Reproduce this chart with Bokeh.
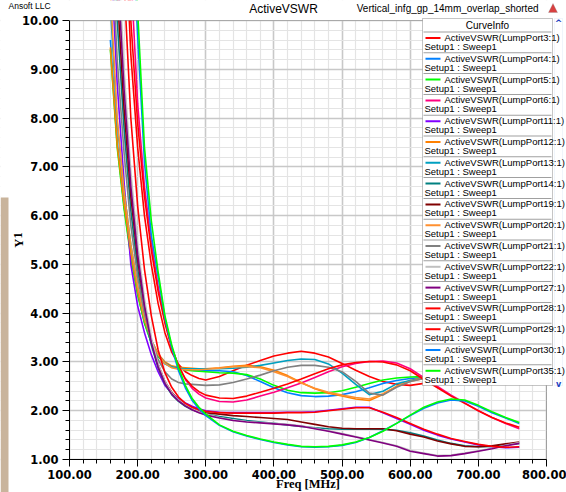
from bokeh.plotting import figure
from bokeh.models import (Range1d, FixedTicker, PrintfTickFormatter, Label,
                          BoxAnnotation, PolyAnnotation)
from bokeh.embed import file_html
from bokeh.resources import INLINE

# ---- data: active VSWR per lumped port vs frequency (MHz) ----
freq_mhz = [160, 170, 180, 190, 200, 210, 220, 230, 240, 250, 260, 270, 280, 290, 300,
            320, 340, 360, 380, 400, 420, 440, 460, 480, 500, 520, 540, 560, 580, 600,
            620, 640, 660, 680, 700, 720, 740, 760]

port3 = [24, 17, 12.5, 9.3, 7.4, 6.0, 5.0, 4.2, 3.6, 3.2, 2.95, 2.8, 2.72, 2.66, 2.63,
         2.7, 2.82, 2.93, 3.03, 3.12, 3.18, 3.22, 3.18, 3.1, 2.97, 2.83, 2.7, 2.6, 2.54, 2.52,
         2.56, 2.62, 2.68, 2.72, 2.74, 2.74, 2.72, 2.7]
port4 = [9.6, 7.5, 6.2, 5.2, 4.4, 3.8, 3.4, 3.12, 2.96, 2.89, 2.86, 2.84, 2.83, 2.82, 2.82,
         2.82, 2.8, 2.72, 2.6, 2.47, 2.37, 2.31, 2.29, 2.3, 2.33, 2.39, 2.47, 2.56, 2.62, 2.66,
         2.68, 2.69, 2.69, 2.68, 2.67, 2.66, 2.65, 2.64]
port5 = [9.4, 7.4, 6.15, 5.15, 4.38, 3.8, 3.4, 3.12, 2.97, 2.9, 2.86, 2.84, 2.82, 2.81, 2.8,
         2.78, 2.77, 2.74, 2.65, 2.52, 2.42, 2.37, 2.36, 2.37, 2.41, 2.48, 2.56, 2.63, 2.67, 2.69,
         2.7, 2.7, 2.7, 2.69, 2.68, 2.67, 2.66, 2.65]
port6 = [26, 19, 14.5, 11, 8.3, 6.6, 5.45, 4.55, 3.85, 3.3, 2.92, 2.64, 2.46, 2.34, 2.26,
         2.19, 2.18, 2.22, 2.3, 2.38, 2.47, 2.57, 2.68, 2.8, 2.9, 2.97, 3.01, 3.02, 2.98, 2.86,
         2.68, 2.5, 2.32, 2.16, 2.0, 1.86, 1.74, 1.63]
port11 = [11.5, 8.7, 6.7, 5.0, 4.15, 3.6, 3.15, 2.8, 2.52, 2.36, 2.25, 2.16, 2.09, 2.04, 2.0,
          1.97, 1.96, 1.96, 1.96, 1.96, 1.97, 1.97, 1.98, 2.01, 2.04, 2.07, 2.07, 1.96, 1.84, 1.72,
          1.6, 1.5, 1.42, 1.36, 1.3, 1.26, 1.24, 1.25]
port12 = [9.45, 7.45, 6.25, 5.25, 4.45, 3.85, 3.45, 3.17, 3.0, 2.92, 2.89, 2.88, 2.87, 2.86, 2.86,
          2.88, 2.91, 2.93, 2.9, 2.83, 2.72, 2.58, 2.45, 2.36, 2.3, 2.24, 2.21, 2.33, 2.5, 2.62,
          2.68, 2.7, 2.7, 2.68, 2.66, 2.64, 2.63, 2.62]
port13 = [10.3, 7.9, 6.5, 5.4, 4.55, 3.9, 3.45, 3.15, 2.98, 2.9, 2.87, 2.86, 2.86, 2.86, 2.86,
          2.86, 2.87, 2.89, 2.93, 2.98, 3.03, 3.06, 3.05, 2.96, 2.77, 2.54, 2.33, 2.4, 2.55, 2.62,
          2.66, 2.68, 2.68, 2.67, 2.66, 2.65, 2.64, 2.63]
port14 = [13, 10, 7.8, 6.1, 4.9, 4.0, 3.35, 2.88, 2.55, 2.33, 2.19, 2.09, 2.02, 1.97, 1.93,
          1.88, 1.84, 1.8, 1.77, 1.74, 1.71, 1.68, 1.65, 1.63, 1.62, 1.62, 1.62, 1.62, 1.6, 1.55,
          1.48, 1.4, 1.33, 1.28, 1.26, 1.27, 1.3, 1.33]
port19 = [14, 10.6, 8.2, 6.4, 5.1, 4.15, 3.45, 2.95, 2.6, 2.38, 2.22, 2.11, 2.04, 1.99, 1.96,
          1.93, 1.9, 1.88, 1.86, 1.84, 1.82, 1.77, 1.72, 1.67, 1.64, 1.63, 1.63, 1.63, 1.59, 1.52,
          1.46, 1.38, 1.32, 1.27, 1.26, 1.28, 1.32, 1.36]
port20 = [10.6, 8.0, 6.5, 5.4, 4.55, 3.9, 3.45, 3.15, 2.97, 2.88, 2.85, 2.84, 2.84, 2.84, 2.85,
          2.87, 2.9, 2.91, 2.88, 2.8, 2.7, 2.57, 2.46, 2.38, 2.32, 2.27, 2.24, 2.35, 2.5, 2.6,
          2.66, 2.69, 2.69, 2.68, 2.66, 2.64, 2.63, 2.62]
port21 = [12, 9.2, 7.3, 5.8, 4.75, 4.0, 3.45, 3.05, 2.8, 2.65, 2.58, 2.55, 2.54, 2.53, 2.52,
          2.53, 2.58, 2.65, 2.73, 2.82, 2.89, 2.93, 2.93, 2.89, 2.8, 2.6, 2.36, 2.32, 2.48, 2.6,
          2.66, 2.69, 2.7, 2.69, 2.67, 2.65, 2.64, 2.63]
port22 = [16, 11.8, 9.0, 6.9, 5.4, 4.3, 3.5, 2.96, 2.6, 2.37, 2.22, 2.12, 2.04, 1.98, 1.93,
          1.86, 1.81, 1.78, 1.76, 1.74, 1.72, 1.69, 1.64, 1.59, 1.53, 1.47, 1.41, 1.35, 1.28, 1.19,
          1.13, 1.08, 1.09, 1.13, 1.18, 1.23, 1.29, 1.35]
port27 = [15, 11.2, 8.6, 6.6, 5.2, 4.15, 3.4, 2.9, 2.56, 2.34, 2.2, 2.1, 2.02, 1.96, 1.91,
          1.85, 1.8, 1.77, 1.75, 1.73, 1.71, 1.68, 1.63, 1.58, 1.52, 1.46, 1.4, 1.34, 1.27, 1.17,
          1.12, 1.07, 1.08, 1.12, 1.17, 1.22, 1.28, 1.33]
port28 = [25, 18, 13.5, 10, 7.9, 6.4, 5.3, 4.45, 3.8, 3.28, 2.92, 2.66, 2.5, 2.39, 2.32,
          2.26, 2.25, 2.3, 2.38, 2.46, 2.55, 2.65, 2.76, 2.86, 2.94, 2.99, 3.01, 3.0, 2.94, 2.82,
          2.64, 2.47, 2.3, 2.15, 2.0, 1.86, 1.75, 1.66]
port29 = [20, 14, 10.8, 8.0, 6.2, 4.9, 3.95, 3.25, 2.78, 2.48, 2.28, 2.15, 2.07, 2.02, 1.99,
          1.96, 1.95, 1.95, 1.95, 1.95, 1.96, 1.96, 1.97, 2.0, 2.03, 2.06, 2.06, 1.97, 1.86, 1.74,
          1.62, 1.52, 1.43, 1.37, 1.31, 1.27, 1.25, 1.26]
port30 = [30, 22, 16.5, 12.5, 9.7, 7.1, 5.6, 4.75, 3.9, 3.3, 2.82, 2.47, 2.21, 2.04, 1.9,
          1.7, 1.57, 1.48, 1.41, 1.35, 1.3, 1.26, 1.25, 1.26, 1.29, 1.35, 1.45, 1.59, 1.74, 1.9,
          2.05, 2.16, 2.22, 2.2, 2.09, 1.96, 1.85, 1.74]
port35 = [30, 22, 17, 13, 10.2, 7.4, 5.9, 4.85, 3.95, 3.35, 2.88, 2.52, 2.25, 2.07, 1.93,
          1.71, 1.58, 1.49, 1.42, 1.36, 1.31, 1.27, 1.26, 1.27, 1.3, 1.36, 1.45, 1.58, 1.74, 1.91,
          2.07, 2.18, 2.24, 2.22, 2.11, 1.98, 1.86, 1.76]

port_ids = [3, 4, 5, 6, 11, 12, 13, 14, 19, 20, 21, 22, 27, 28, 29, 30, 35]
port_vswr = [port3, port4, port5, port6, port11, port12, port13, port14, port19,
             port20, port21, port22, port27, port28, port29, port30, port35]
port_colors = ["#ff0000", "#0080ff", "#00ff00", "#ff0080", "#8000ff", "#ff8000",
               "#00a0c0", "#008080", "#800000", "#ff9030", "#808080", "#c0c0c0",
               "#800080", "#ff0000", "#ff0000", "#0080ff", "#00ff00"]

x_major = [100, 200, 300, 400, 500, 600, 700, 800]
x_minor = [f for f in range(100, 801, 20) if f % 100]
y_major = [1, 2, 3, 4, 5, 6, 7, 8, 9, 10]
y_minor = [round(1 + 0.2 * k, 1) for k in range(46) if k % 5]

X0, X1, Y0, Y1 = 100, 800, 1, 10    # plotted data window

# ---- page geometry (pixels) ----
W, H = 566, 492
FL, FR, FT, FB = 69, 546, 20, 459   # edges of the plot box on the page
kx = (FR - FL) / (X1 - X0)
ky = (FB - FT) / (Y1 - Y0)

# the frame spans the whole page so that page texts and the info box are not clipped;
# the axes are pinned to the plot box edges
p = figure(width=W, height=H,
           x_range=Range1d(X0 - FL / kx, X1 + (W - FR) / kx),
           y_range=Range1d(Y0 - (H - FB) / ky, Y1 + FT / ky),
           output_backend="svg", toolbar_location=None, title=None,
           min_border_left=0, min_border_right=0, min_border_top=0, min_border_bottom=0)
p.background_fill_color = "white"
p.border_fill_color = "white"
p.outline_line_color = None


def sx(px):
    return px


def sy(py):
    return H - py


def box(l, r, t, b, **kw):
    return BoxAnnotation(left=sx(l), right=sx(r), top=sy(t), bottom=sy(b),
                         left_units="screen", right_units="screen",
                         top_units="screen", bottom_units="screen", **kw)


p.xaxis.fixed_location = Y0
p.yaxis.fixed_location = X0
p.xaxis.bounds = (X0, X1)
p.yaxis.bounds = (Y0, Y1)
for ax, major, minor in ((p.xaxis[0], x_major, x_minor), (p.yaxis[0], y_major, y_minor)):
    ax.ticker = FixedTicker(ticks=major, minor_ticks=minor)
    ax.formatter = PrintfTickFormatter(format="%.2f")
    ax.axis_line_color = "black"
    ax.major_tick_line_color = "black"
    ax.minor_tick_line_color = "black"
    ax.major_tick_in = 0
    ax.major_tick_out = 7
    ax.minor_tick_in = 0
    ax.minor_tick_out = 4
    ax.major_label_text_font = "DejaVu Sans"
    ax.major_label_text_font_style = "bold"
    ax.major_label_text_font_size = "11.5px"
    ax.major_label_text_color = "black"
p.xaxis.major_label_standoff = 3
p.yaxis.major_label_standoff = 4

for g in (p.xgrid[0], p.ygrid[0]):
    g.grid_line_color = "#c8c8c8"
    g.grid_line_width = 1.6
    g.minor_grid_line_color = "#e4e4e4"
    g.minor_grid_line_width = 1.2

# white margins hide the grid outside the plot box
for l, r, t, b in ((0, FL, 0, H), (FR, W, 0, H), (0, W, FB, H), (0, W, 0, FT)):
    p.add_layout(box(l, r, t, b, fill_color="white", fill_alpha=1, line_alpha=0, level="underlay"))

for vals, col in zip(port_vswr, port_colors):
    p.line(freq_mhz, vals, line_color=col, line_width=1.6)

# curves leaving the top of the plot box are masked, then the box is outlined
p.add_layout(box(FL, W + 5, -5, FT, fill_color="white", fill_alpha=1, line_alpha=0))
p.add_layout(box(FL, FR, FT, FB, fill_alpha=0, line_color="black", line_width=1))

# ---- page texts ----
p.add_layout(Label(x=sx(8), y=sy(5), x_units="screen", y_units="screen", text="Ansoft LLC",
                   text_font="Liberation Sans", text_font_size="8.5px",
                   text_baseline="middle", text_align="left", text_color="black"))
p.add_layout(Label(x=sx(283), y=sy(8), x_units="screen", y_units="screen", text="ActiveVSWR",
                   text_font="Liberation Sans", text_font_size="12px",
                   text_baseline="middle", text_align="center", text_color="black"))
p.add_layout(Label(x=sx(538), y=sy(8), x_units="screen", y_units="screen",
                   text="Vertical_infg_gp_14mm_overlap_shorted",
                   text_font="Liberation Sans", text_font_size="10px",
                   text_baseline="middle", text_align="right", text_color="black"))
p.add_layout(PolyAnnotation(xs=[sx(548), sx(552.5), sx(557)], ys=[sy(12), sy(3), sy(12)],
                            xs_units="screen", ys_units="screen",
                            fill_color="#d84040", fill_alpha=1, line_color="#909090", line_width=1))
p.add_layout(Label(x=sx((FL + FR) / 2), y=sy(483), x_units="screen", y_units="screen",
                   text="Freq [MHz]",
                   text_font="Liberation Serif", text_font_style="bold", text_font_size="12.5px",
                   text_baseline="middle", text_align="center", text_color="black"))
p.add_layout(Label(x=sx(18), y=sy((FT + FB) / 2), x_units="screen", y_units="screen", text="Y1",
                   text_font="Liberation Serif", text_font_style="bold", text_font_size="12.5px",
                   text_baseline="middle", text_align="center", angle=1.5708, text_color="black"))

# tan strip on the left page edge
p.add_layout(box(0, 8, 197, H, fill_color="#c9b49c", fill_alpha=1, line_alpha=0))

# ---- curve info box ----
LX0, LX1, LY0, LY1 = 422, 552, 18, 385
ROW0, ROWH = 31, 20.8
p.add_layout(box(LX0, LX1, LY0, LY1, fill_color="white", fill_alpha=1,
                 line_color="#404040", line_width=1))
p.add_layout(Label(x=sx((LX0 + LX1) / 2), y=sy(25), x_units="screen", y_units="screen",
                   text="CurveInfo", text_font="Liberation Sans", text_font_size="10px",
                   text_baseline="middle", text_align="center", text_color="black"))
for i, (pid, col) in enumerate(zip(port_ids, port_colors)):
    top = ROW0 + i * ROWH
    p.add_layout(box(LX0 + 1, LX1 - 1, top, top + 1, fill_color="#a0a0a0", fill_alpha=1, line_alpha=0))
    p.add_layout(box(425, 440, top + 5.5, top + 7.5, fill_color=col, fill_alpha=1, line_alpha=0))
    p.add_layout(Label(x=sx(444), y=sy(top + 6), x_units="screen", y_units="screen",
                       text=f"ActiveVSWR(LumpPort{pid}:1)", text_font="Liberation Sans",
                       text_font_size="9.5px", text_baseline="middle", text_align="left",
                       text_color="black"))
    p.add_layout(Label(x=sx(424), y=sy(top + 15), x_units="screen", y_units="screen",
                       text="Setup1 : Sweep1", text_font="Liberation Sans",
                       text_font_size="9.5px", text_baseline="middle", text_align="left",
                       text_color="black"))

# scroll strip beside the box
p.add_layout(box(554, 562, LY0, LY1, fill_alpha=0, line_color="#9ab8e0", line_dash="1 1", line_width=1))
p.add_layout(Label(x=sx(558), y=sy(22), x_units="screen", y_units="screen", text="^",
                   text_font="DejaVu Sans", text_font_style="bold", text_font_size="9px",
                   text_baseline="middle", text_align="center", text_color="#2040c0"))
p.add_layout(Label(x=sx(558), y=sy(384), x_units="screen", y_units="screen", text="v",
                   text_font="DejaVu Sans", text_font_style="bold", text_font_size="8px",
                   text_baseline="middle", text_align="center", text_color="#2040c0"))

open("out.html", "w").write(file_html(p, INLINE))
